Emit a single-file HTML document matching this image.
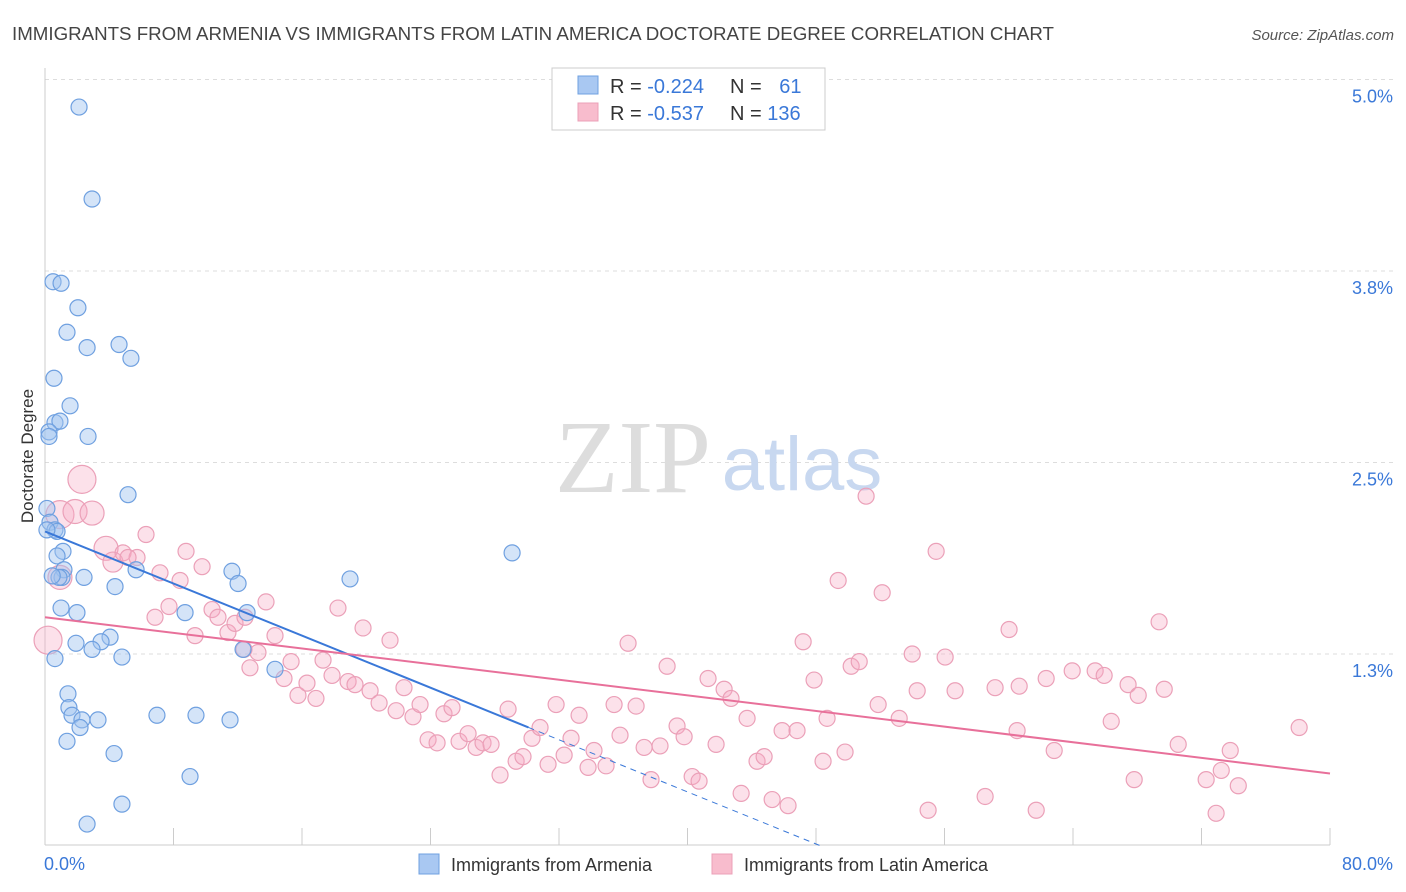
<!DOCTYPE html>
<html><head><meta charset="utf-8"><style>
body{margin:0;background:#fff;font-family:"Liberation Sans",sans-serif;}
svg{display:block}
</style></head><body>
<svg id="chart" width="1406" height="892" xmlns="http://www.w3.org/2000/svg">
<text x="12" y="40" font-size="18.7" fill="#444" textLength="1042" lengthAdjust="spacingAndGlyphs">IMMIGRANTS FROM ARMENIA VS IMMIGRANTS FROM LATIN AMERICA DOCTORATE DEGREE CORRELATION CHART</text>
<text x="1394" y="40" font-size="15" fill="#555" font-style="italic" text-anchor="end">Source: ZipAtlas.com</text>
<g id="grid"></g>
<g>
<text x="633" y="492" font-size="104" fill="#ddd" font-family="Liberation Serif,serif" text-anchor="middle">ZIP</text>
<text x="802" y="490" font-size="76" fill="#c8d8f0" text-anchor="middle">atlas</text>
</g>
<g id="marks"></g>
<text transform="translate(33,456) rotate(-90)" font-size="17" fill="#333" text-anchor="middle">Doctorate Degree</text>
<g>
<rect x="552" y="68" width="273" height="62" fill="#fff" stroke="#ccc"/>
<rect x="578" y="76" width="20" height="18" fill="#a9c8f2" stroke="#6fa0e0"/>
<rect x="578" y="103" width="20" height="18" fill="#f8bccd" stroke="#eba0b8"/>
<text x="610" y="93" font-size="20" fill="#333">R = <tspan fill="#3a78d8">-0.224</tspan></text>
<text x="730" y="93" font-size="20" fill="#333">N = <tspan fill="#3a78d8" dx="12">61</tspan></text>
<text x="610" y="120" font-size="20" fill="#333">R = <tspan fill="#3a78d8">-0.537</tspan></text>
<text x="730" y="120" font-size="20" fill="#333">N = <tspan fill="#3a78d8">136</tspan></text>
</g>
<g>
<rect x="419" y="854" width="20" height="20" fill="#a9c8f2" stroke="#6fa0e0"/>
<text x="451" y="871" font-size="18" fill="#333">Immigrants from Armenia</text>
<rect x="712" y="854" width="20" height="20" fill="#f8bccd" stroke="#eba0b8"/>
<text x="744" y="871" font-size="18" fill="#333">Immigrants from Latin America</text>
</g>
</svg>
<script>
const blueX=[2.12,2.93,0.50,1.00,2.05,1.37,2.62,4.61,5.35,0.56,1.56,0.62,0.93,0.25,0.25,2.68,5.17,0.12,0.31,0.62,0.75,1.12,0.75,1.18,1.06,0.87,2.43,5.67,4.36,11.64,12.02,18.99,29.08,1.00,1.99,8.72,12.58,4.05,3.49,1.93,2.93,4.79,0.62,12.33,14.32,1.43,1.49,1.68,2.30,3.30,2.18,6.97,9.40,11.52,1.37,4.30,9.03,4.79,2.62,0.12,0.45];
const blueY=[4.82,4.22,3.68,3.67,3.51,3.35,3.25,3.27,3.18,3.05,2.87,2.76,2.77,2.70,2.67,2.67,2.29,2.20,2.11,2.06,2.05,1.92,1.89,1.80,1.75,1.75,1.75,1.80,1.69,1.79,1.71,1.74,1.91,1.55,1.52,1.52,1.52,1.36,1.33,1.32,1.28,1.23,1.22,1.28,1.15,0.99,0.90,0.85,0.82,0.82,0.77,0.85,0.85,0.82,0.68,0.60,0.45,0.27,0.14,2.06,1.76];
const pinkX=[2.30,0.93,1.87,2.93,0.19,0.93,3.80,4.23,4.86,5.73,6.29,5.17,7.16,8.41,8.78,9.78,7.72,6.85,9.34,10.40,10.77,11.39,11.83,12.45,12.39,12.76,13.26,13.76,14.32,15.32,14.88,15.75,16.31,16.87,17.31,18.24,17.87,18.87,19.30,19.80,20.24,20.80,21.48,21.86,22.35,22.91,23.35,23.85,24.41,24.84,25.34,25.78,26.34,26.84,27.27,27.77,28.33,28.83,29.33,29.76,30.32,30.82,31.32,31.82,32.32,32.75,33.25,33.81,34.18,34.93,35.43,35.80,36.30,36.80,37.30,37.73,38.29,38.73,39.35,39.79,40.29,40.72,41.28,41.78,42.28,42.71,43.34,43.71,44.33,44.77,45.27,45.89,46.26,46.82,47.20,47.88,48.44,48.69,49.38,49.81,50.19,50.69,51.12,51.87,52.12,53.18,53.99,54.30,54.98,55.48,56.04,56.66,58.53,59.15,60.02,60.65,60.52,61.71,62.33,62.83,63.95,65.38,65.94,66.38,67.43,67.81,68.06,69.36,69.68,70.55,72.29,72.91,73.23,73.79,74.29,78.08];
const pinkY=[2.39,2.16,2.18,2.17,1.34,1.75,1.94,1.85,1.91,1.88,2.03,1.88,1.78,1.73,1.92,1.82,1.56,1.49,1.37,1.54,1.49,1.39,1.45,1.49,1.28,1.16,1.26,1.59,1.37,1.20,1.09,0.98,1.06,0.96,1.21,1.55,1.11,1.07,1.05,1.42,1.01,0.93,1.34,0.88,1.03,0.84,0.92,0.69,0.67,0.86,0.90,0.68,0.73,0.64,0.67,0.66,0.46,0.89,0.55,0.58,0.70,0.77,0.53,0.92,0.59,0.70,0.85,0.51,0.62,0.52,0.92,0.72,1.32,0.91,0.64,0.43,0.65,1.17,0.78,0.71,0.45,0.42,1.09,0.66,1.02,0.96,0.34,0.83,0.55,0.58,0.30,0.75,0.26,0.75,1.33,1.08,0.55,0.83,1.73,0.61,1.17,1.20,2.28,0.92,1.65,0.83,1.25,1.01,0.23,1.92,1.23,1.01,0.32,1.03,1.41,1.04,0.75,0.23,1.09,0.62,1.14,1.14,1.11,0.81,1.05,0.43,0.98,1.46,1.02,0.66,0.43,0.21,0.49,0.62,0.39,0.77];
const pinkBig=[14,14,12,12,14,12,12,10];
const yTicks=[5.0,3.75,2.5,1.25];
const yTickLabels=["5.0%","3.8%","2.5%","1.3%"];
const xEnds=["0.0%","80.0%"];
const blueTrend=[2.05,-0.0425];
const pinkTrend=[1.49,-0.01275];
const X=v=>45+v/80*1285, Y=v=>845.5-v/1.25*191.5;
const NS="http://www.w3.org/2000/svg";
function mk(tag,attrs,parent){const e=document.createElementNS(NS,tag);for(const k in attrs)e.setAttribute(k,attrs[k]);parent.appendChild(e);return e;}
const grid=document.getElementById('grid'), marks=document.getElementById('marks');
yTicks.forEach((t,i)=>{
 const l=mk('line',{x1:45,x2:1394,y1:Y(t),y2:Y(t),stroke:'#ddd','stroke-dasharray':'4,4'},grid);
 
 
 const tx=mk('text',{x:1393,y:Y(t)+23,'font-size':18,fill:'#3a78d8','text-anchor':'end'},grid);
 tx.textContent=yTickLabels[i];
 
 
});
const ax=mk('line',{x1:45,x2:1330,y1:845,y2:845,stroke:'#ccc'},grid);


const ay=mk('line',{x1:45,x2:45,y1:68,y2:845,stroke:'#ccc'},grid);


for(let i=0;i<=10;i++){const t=mk('line',{x1:X(i*8),x2:X(i*8),y1:828,y2:845,stroke:'#ccc'},grid);
 
 }
[[0,'start',44],[80,'end',1393]].forEach((d,i)=>{const t=mk('text',{x:d[2],y:870,'font-size':18,fill:'#3a78d8','text-anchor':d[1]},grid);t.textContent=xEnds[i];
 
 });
pinkX.forEach((x,i)=>{const c=mk('circle',{cx:X(x),cy:Y(pinkY[i]),r:pinkBig[i]||8,fill:'rgba(245,170,195,0.35)',stroke:'#eba0b8','stroke-width':1.2},marks);
 
 });
blueX.forEach((x,i)=>{const c=mk('circle',{cx:X(x),cy:Y(blueY[i]),r:8,fill:'rgba(160,196,240,0.45)',stroke:'#6fa0e0','stroke-width':1.2},marks);
 
 });
const bx1=30.1, bx2=-blueTrend[0]/blueTrend[1];
const b1=mk('line',{x1:X(0),y1:Y(blueTrend[0]),x2:X(bx1),y2:Y(blueTrend[0]+blueTrend[1]*bx1),stroke:'#3a78d8','stroke-width':2},marks);


const b2=mk('line',{x1:X(bx1),y1:Y(blueTrend[0]+blueTrend[1]*bx1),x2:X(bx2),y2:Y(0),stroke:'#3a78d8','stroke-width':1,'stroke-dasharray':'6,5'},marks);


const p1=mk('line',{x1:X(0),y1:Y(pinkTrend[0]),x2:X(80),y2:Y(pinkTrend[0]+pinkTrend[1]*80),stroke:'#e8709a','stroke-width':2},marks);


</script>
</body></html>
